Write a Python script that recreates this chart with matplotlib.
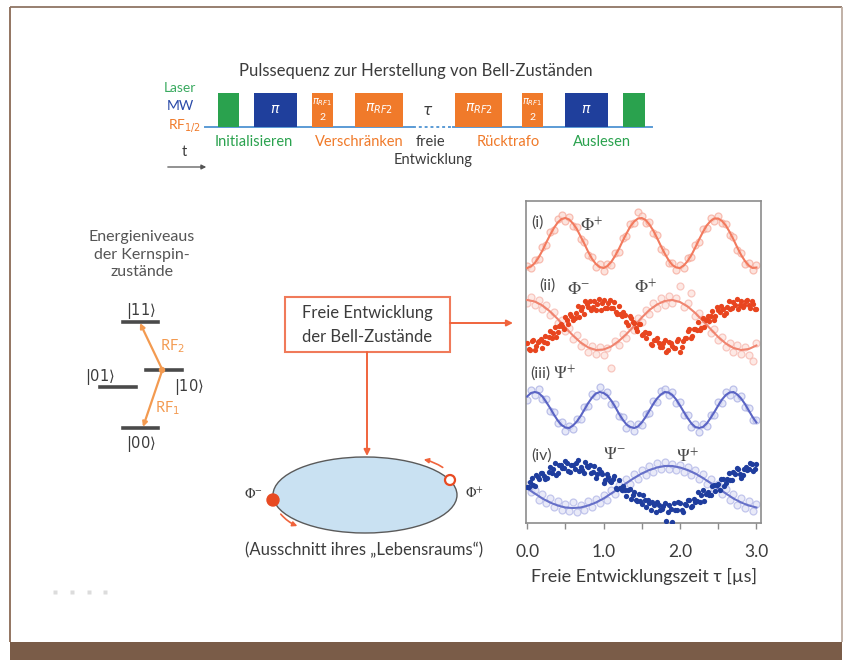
import numpy as np
import matplotlib
matplotlib.use("Agg")
import matplotlib.pyplot as plt
from matplotlib.patches import Rectangle, Ellipse, FancyArrowPatch, Circle

# ---------------- data ----------------
t_fine = np.round(np.arange(0, 3.0001, 0.05), 2)    # 61 samples
t_coarse = np.round(np.arange(0, 3.0001, 0.1), 1)   # 31 samples
t_dense = np.round(np.arange(0, 3.0001, 0.04), 2)   # 76 samples
t_dense_b = np.round(np.arange(0.02, 2.99, 0.04), 2)  # 75 samples

# (i) Phi+
fit_i = [0.00,0.03,0.10,0.21,0.35,0.51,0.66,0.80,0.91,0.98, 1.00,0.97,0.89,0.78,0.63,0.48,0.32,0.18,0.08,0.02,
         0.00,0.04,0.12,0.24,0.38,0.54,0.69,0.83,0.93,0.99, 1.00,0.96,0.87,0.75,0.60,0.44,0.29,0.16,0.06,0.01,
         0.00,0.05,0.14,0.26,0.41,0.57,0.72,0.85,0.94,0.99, 0.99,0.94,0.85,0.72,0.57,0.41,0.26,0.14,0.05,0.00,
         0.01]
scat_i = [0.05,0.00,0.16,0.18,0.42,0.47,0.72,0.76,0.98,1.06, 0.95,1.02,0.84,0.82,0.58,0.52,0.27,0.22,0.03,0.08,
          -0.05,0.09,0.07,0.30,0.33,0.60,0.65,0.88,0.90,1.12, 1.05,0.91,0.92,0.70,0.66,0.38,0.33,0.10,0.11,-0.04,
          0.06,0.00,0.20,0.22,0.47,0.52,0.78,0.80,1.00,0.95, 1.04,0.90,0.88,0.66,0.62,0.36,0.31,0.08,0.10,-0.03,
          0.06]
# (ii) Phi+ (light) and Phi- (dark)
fit_ii = [1.00,0.97,0.89,0.77,0.62,0.45,0.29,0.15,0.05,0.00, 0.01,0.07,0.18,0.32,0.48,0.65,0.80,0.91,0.98,1.00,
          0.96,0.87,0.74,0.58,0.42,0.26,0.13,0.04,0.00,0.02, 0.09]
scat_ii = [0.95,1.06,0.90,1.00,0.82,0.90,0.70,0.76,0.55,0.60, 0.38,0.44,0.22,0.30,0.08,0.16,-0.04,0.08,-0.08,0.07,
           -0.10,0.05,-0.35,0.18,0.10,0.32,0.24,0.48,0.40,0.64, 0.56,0.80,0.72,0.95,0.84,1.04,0.90,1.08,0.94,1.05,
           1.28,0.86,0.95,1.15,0.68,0.74,0.50,0.58,0.35,0.42, 0.20,0.26,0.06,0.15,-0.03,0.10,-0.08,0.06,-0.10,-0.22,
           0.14]
dark_ii_a = [0.14,0.00,0.20,0.09,0.18,0.05,0.29,0.26,0.24,0.47, 0.36,0.53,0.42,0.60,0.72,0.61,0.75,0.67,0.86,0.98,
             0.86,0.81,0.98,0.93,0.80,1.00,0.85,1.00,0.84,0.76, 0.88,0.69,0.71,0.51,0.64,0.54,0.38,0.52,0.33,0.24,
             0.34,0.11,0.21,0.15,0.06,0.21,0.00,0.14,0.05,0.18, -0.03,0.19,0.25,0.42,0.29,0.43,0.57,0.45,0.47,0.68,
             0.69,0.61,0.86,0.77,0.83,0.74,0.98,0.84,0.91,0.82, 0.99,0.90,1.01,0.85,0.93,0.83]
dark_ii_b = [0.03,0.18,0.00,0.17,0.23,0.16,0.14,0.38,0.35,0.26, 0.49,0.48,0.66,0.52,0.69,0.65,0.88,0.80,0.73,0.92,
             0.98,0.87,0.81,1.02,0.95,0.84,0.94,0.85,0.97,0.72, 0.73,0.77,0.56,0.68,0.56,0.44,0.53,0.30,0.36,0.35,
             0.12,0.21,0.25,0.07,0.15,-0.04,0.16,0.09,0.05,0.22, 0.06,0.24,0.38,0.24,0.43,0.41,0.40,0.65,0.60,0.59,
             0.79,0.69,0.81,0.88,0.71,0.86,0.83,0.96,1.02,0.90, 0.86,0.98,0.91,0.98,0.82]
# (iii) Psi+
fit_iii = [0.77,0.84,0.86,0.84,0.77,0.66,0.54,0.41,0.29,0.20, 0.15,0.14,0.19,0.27,0.38,0.51,0.64,0.75,0.83,0.86,
           0.84,0.79,0.69,0.57,0.43,0.31,0.21,0.16,0.14,0.17, 0.25,0.36,0.49,0.62,0.73,0.81,0.86,0.85,0.80,0.71,
           0.59,0.46,0.34,0.23,0.16,0.14,0.16,0.23,0.34,0.46, 0.59,0.71,0.80,0.85,0.86,0.81,0.73,0.62,0.49,0.36,
           0.25]
scat_iii = [0.70,0.90,0.80,0.92,0.72,0.72,0.48,0.46,0.24,0.26, 0.08,0.18,0.12,0.32,0.33,0.56,0.58,0.82,0.78,0.96,
            0.80,0.86,0.62,0.63,0.38,0.36,0.15,0.22,0.08,0.22, 0.20,0.42,0.44,0.68,0.67,0.88,0.92,0.80,0.86,0.64,
            0.66,0.40,0.40,0.17,0.22,0.06,0.22,0.18,0.40,0.40, 0.66,0.64,0.86,0.80,0.92,0.74,0.78,0.56,0.55,0.30,
            0.30]
# (iv) Psi+ (light) and Psi- (dark)
fit_iv = [0.47,0.37,0.27,0.19,0.13,0.09,0.08,0.09,0.13,0.19, 0.27,0.37,0.47,0.58,0.68,0.77,0.84,0.89,0.92,0.92,
          0.89,0.84,0.77,0.68,0.58,0.47,0.37,0.27,0.19,0.13, 0.09]
scat_iv = [0.55,0.40,0.45,0.25,0.36,0.18,0.28,0.10,0.22,0.04, 0.16,0.02,0.20,0.00,0.14,0.05,0.22,0.10,0.26,0.18,
           0.34,0.24,0.44,0.36,0.55,0.46,0.66,0.56,0.76,0.66, 0.85,0.74,0.92,0.80,0.98,0.86,1.00,0.86,0.96,0.84,
           0.94,0.80,0.90,0.74,0.84,0.66,0.76,0.56,0.66,0.46, 0.56,0.36,0.46,0.24,0.36,0.14,0.28,0.08,0.22,0.02,
           0.16]
dark_iv_a = [0.51,0.61,0.55,0.74,0.66,0.79,0.66,0.80,0.78,0.98, 0.79,0.94,0.89,0.99,0.81,0.94,0.99,0.82,0.85,1.00,
             0.90,0.78,0.92,0.77,0.81,0.59,0.77,0.62,0.67,0.48, 0.64,0.44,0.45,0.44,0.26,0.41,0.22,0.23,0.34,0.11,
             0.18,0.21,0.00,0.14,0.06,0.18,0.01,0.07,0.19,0.04, 0.19,0.00,0.15,0.24,0.12,0.20,0.40,0.35,0.23,0.40,
             0.35,0.55,0.54,0.45,0.66,0.59,0.79,0.65,0.76,0.86, 0.69,0.87,0.84,0.98,0.82,0.97]
dark_iv_b = [0.50,0.68,0.52,0.71,0.78,0.72,0.69,0.91,0.86,0.74, 0.94,0.89,1.02,0.83,0.95,0.86,1.04,0.91,0.79,0.93,
             0.94,0.80,0.69,0.87,0.77,0.64,0.71,0.61,0.72,0.46, 0.48,0.53,0.32,0.46,0.35,0.25,0.37,0.16,0.24,0.25,
             0.04,0.15,0.21,0.05,0.13,-0.18,0.15,-0.20,0.05,0.21, 0.05,0.17,0.25,0.10,0.27,0.23,0.21,0.44,0.37,0.35,
             0.53,0.43,0.56,0.67,0.52,0.67,0.65,0.80,0.88,0.77, 0.75,0.90,0.86,0.97,0.86]

x_ticks = [0.0, 1.0, 2.0, 3.0]
x_tick_labels = ["0.0", "1.0", "2.0", "3.0"]
x_label = "Freie Entwicklungszeit τ [µs]"

# ---------------- figure ----------------
FONT = ["Lato", "DejaVu Sans"]
plt.rcParams["font.family"] = FONT
TXT = "#3c3c3c"
GREEN = "#2aa24e"
BLUE = "#1f3f9c"
ORANGE = "#f07a2a"
ARROW = "#f0643c"

fig = plt.figure(figsize=(8.47, 6.6), dpi=100)
bg = fig.add_axes([0, 0, 1, 1])
bg.set_xlim(0, 847)
bg.set_ylim(660, 0)
bg.axis("off")

# page frame
bg.plot([10, 10], [7, 642], color="#8a6a55", lw=1.3, solid_capstyle="butt")
bg.plot([10, 842], [7, 7], color="#8f7565", lw=1.3, solid_capstyle="butt")
bg.plot([842, 842], [7, 642], color="#bcaba0", lw=1.3, solid_capstyle="butt")
bg.add_patch(Rectangle((10, 642), 832, 18, facecolor="#7a5c48", edgecolor="none"))

# ---- pulse sequence ----
bg.text(416, 71, "Pulssequenz zur Herstellung von Bell-Zuständen", ha="center", va="center",
        fontsize=12, color=TXT)
bg.text(196, 88, "Laser", ha="right", va="center", fontsize=10, color="#3aaa60")
bg.text(194, 106, "MW", ha="right", va="center", fontsize=10, color="#2a4aa8")
bg.text(201, 125, "RF$_{1/2}$", ha="right", va="center", fontsize=10, color=ORANGE)

base_y = 127
bg.plot([205, 413], [base_y, base_y], color="#5b9bd5", lw=1.4, zorder=1)
bg.plot([413, 453], [base_y, base_y], color="#5b9bd5", lw=1.4, ls=(0, (1.5, 1.5)), zorder=1)
bg.plot([453, 652], [base_y, base_y], color="#5b9bd5", lw=1.4, zorder=1)

pulses = [(218, 239, GREEN, ""), (254, 297, BLUE, r"$\pi$"), (312, 333, ORANGE, "half"),
          (355, 403, ORANGE, r"$\pi_{RF2}$"), (455, 502, ORANGE, r"$\pi_{RF2}$"),
          (522, 543, ORANGE, "half"), (565, 608, BLUE, r"$\pi$"), (623, 645, GREEN, "")]
for x0, x1, c, lab in pulses:
    bg.add_patch(Rectangle((x0, 93), x1 - x0, 34, facecolor=c, edgecolor="none", zorder=2))
    xc = (x0 + x1) / 2
    if lab == "half":
        bg.text(xc, 102, r"$\pi_{RF1}$", ha="center", va="center", fontsize=7, color="white", zorder=3)
        bg.text(xc, 117, "2", ha="center", va="center", fontsize=7.5, color="white", zorder=3)
    elif lab:
        bg.text(xc, 109, lab, ha="center", va="center", fontsize=10, color="white", zorder=3)
bg.text(428, 111, r"$\tau$", ha="center", va="center", fontsize=11, color=TXT)

for xc, s, c in [(254, "Initialisieren", GREEN), (359, "Verschränken", ORANGE), (430, "freie", TXT),
                 (508, "Rücktrafo", ORANGE), (602, "Auslesen", GREEN)]:
    bg.text(xc, 142, s, ha="center", va="center", fontsize=10.5, color=c)
bg.text(433, 160, "Entwicklung", ha="center", va="center", fontsize=10.5, color=TXT)
bg.text(184, 152, "t", ha="center", va="center", fontsize=10.5, color=TXT)
bg.annotate("", xy=(209, 167), xytext=(165, 167),
            arrowprops=dict(arrowstyle="-|>", color="#555555", lw=0.9, mutation_scale=7))

# ---- energy levels ----
for i, s in enumerate(["Energieniveaus", "der Kernspin-", "zustände"]):
    bg.text(142, 237 + 17.5 * i, s, ha="center", va="center", fontsize=11.5, color="#555555")
LV = "#4a4a4a"
bg.plot([123, 158], [322, 322], color=LV, lw=2.6)
bg.plot([146, 182], [370, 370], color=LV, lw=2.6)
bg.plot([100, 136], [387, 387], color=LV, lw=2.6)
bg.plot([123, 158], [428, 428], color=LV, lw=2.6)
for xk, yk, s in [(141, 311, r"$|11\rangle$"), (100, 377, r"$|01\rangle$"),
                  (189, 387, r"$|10\rangle$"), (141, 444, r"$|00\rangle$")]:
    bg.text(xk, yk, s, ha="center", va="center", fontsize=10.5, color=TXT, math_fontfamily="dejavusans")
RFC = "#f39a50"
bg.annotate("", xy=(140, 323), xytext=(162, 369),
            arrowprops=dict(arrowstyle="-|>", color=RFC, lw=1.6, mutation_scale=7, shrinkA=0, shrinkB=0))
bg.annotate("", xy=(143, 427), xytext=(162, 371),
            arrowprops=dict(arrowstyle="-|>", color=RFC, lw=1.6, mutation_scale=7, shrinkA=0, shrinkB=0))
bg.add_patch(Circle((162, 370), 2.5, color=RFC, zorder=4))
bg.text(160, 346, "RF$_2$", ha="left", va="center", fontsize=10.5, color=RFC)
bg.text(155, 408, "RF$_1$", ha="left", va="center", fontsize=10.5, color=RFC)

# ---- free evolution box & arrows ----
bg.add_patch(Rectangle((285, 297), 165, 55, facecolor="white", edgecolor="#f07a5a", lw=1.5))
bg.text(367, 313, "Freie Entwicklung", ha="center", va="center", fontsize=12, color=TXT)
bg.text(367, 337, "der Bell-Zustände", ha="center", va="center", fontsize=12, color=TXT)
bg.annotate("", xy=(513, 323), xytext=(450, 323),
            arrowprops=dict(arrowstyle="-|>", color=ARROW, lw=1.4, mutation_scale=9, shrinkA=0, shrinkB=0))
bg.annotate("", xy=(367, 456), xytext=(367, 352),
            arrowprops=dict(arrowstyle="-|>", color=ARROW, lw=1.4, mutation_scale=9, shrinkA=0, shrinkB=0))

# ---- ellipse ----
bg.add_patch(Ellipse((365, 495), 184, 76, facecolor="#c9e1f2", edgecolor="#5a5a5a", lw=1.0))
bg.add_patch(Circle((273, 500), 6, facecolor="#e84a22", edgecolor="#e84a22", zorder=4))
bg.add_patch(Circle((450, 480), 5, facecolor="white", edgecolor="#e84a22", lw=1.6, zorder=4))
bg.add_patch(FancyArrowPatch((445, 469), (421, 459), connectionstyle="arc3,rad=0.12",
                             arrowstyle="-|>", mutation_scale=7, color=ARROW, lw=1.2))
bg.add_patch(FancyArrowPatch((279, 512), (300, 527), connectionstyle="arc3,rad=0.15",
                             arrowstyle="-|>", mutation_scale=7, color=ARROW, lw=1.2))
bg.text(253, 493, r"$\Phi^{-}$", ha="center", va="center", fontsize=10, color=TXT, math_fontfamily="stix")
bg.text(474, 493, r"$\Phi^{+}$", ha="center", va="center", fontsize=10, color=TXT, math_fontfamily="stix")
bg.text(364, 550, "(Ausschnitt ihres „Lebensraums“)", ha="center", va="center", fontsize=12, color=TXT)

# faint marks bottom-left
for xm in [55, 72, 89, 105]:
    bg.plot(xm, 592, marker="s", ms=2.5, color="#dcdcdc", mec="none")

# ---------------- data panel ----------------
ax = fig.add_axes([526 / 847, 1 - 523 / 660, 235 / 847, 322 / 660])
ax.set_facecolor("none")
ax.set_xlim(-0.015, 3.06)
ax.set_ylim(0, 6.44)

traces = [
    (5.10, t_fine, fit_i, scat_i, "#f27a5e", "#f6a696", "#fcd8cf", None, None),
    (3.46, t_coarse, fit_ii, scat_ii, "#f0846f", "#f6b4aa", "#fde0da", dark_ii_a, dark_ii_b),
    (1.76, t_fine, fit_iii, scat_iii, "#5a64c4", "#a5abe2", "#dcdff6", None, None),
    (0.22, t_coarse, fit_iv, scat_iv, "#6670c8", "#aeb3e6", "#e0e2f6", dark_iv_a, dark_iv_b),
]
dark_colors = ["#e8451f", "#1f3d9e"]
k = 0
for off, tl, yl, ys, lc, mec, mfc, ya, yb in traces:
    ax.plot(t_fine, np.array(ys) + off, ls="none", marker="o", ms=5, mfc=mfc, mec=mec, mew=0.9,
            alpha=0.7, zorder=2)
    ax.plot(tl, np.array(yl) + off, color=lc, lw=1.5, zorder=3)
    if ya is not None:
        ax.plot(t_dense, np.array(ya) + off, ls="none", marker="o", ms=3.8, color=dark_colors[k],
                mec="none", zorder=4)
        ax.plot(t_dense_b, np.array(yb) + off, ls="none", marker="o", ms=3.8, color=dark_colors[k],
                mec="none", zorder=4)
        k += 1

for s in ax.spines.values():
    s.set_color("#8c8c8c")
    s.set_linewidth(1.2)
ax.set_yticks([])
ax.set_xticks(x_ticks)
ax.set_xticklabels(x_tick_labels)
ax.set_xticks([0.5, 1.5, 2.5], minor=True)
ax.tick_params(axis="x", which="both", direction="out", length=4, width=1, color="#8c8c8c",
               labelsize=12.5, labelcolor=TXT, pad=11)
ax.set_xlabel(x_label, fontsize=13, color=TXT, labelpad=6)

LAB = "#4a4a4a"
def px(x_pix, y_pix):
    return (x_pix - 527) / 76.5, (523 - y_pix) / 50.0

for xp, yp, s in [(537, 223, "(i)"), (547, 286, "(ii)"), (540, 374, "(iii)"), (541, 456, "(iv)")]:
    x, y = px(xp, yp)
    ax.text(x, y, s, ha="center", va="center", fontsize=11.5, color=LAB)
for xp, yp, s in [(592, 225, r"$\Phi^{+}$"), (578, 289, r"$\Phi^{-}$"), (646, 287, r"$\Phi^{+}$"),
                  (564, 373, r"$\Psi^{+}$"), (614, 454, r"$\Psi^{-}$"), (687, 456, r"$\Psi^{+}$")]:
    x, y = px(xp, yp)
    ax.text(x, y, s, ha="center", va="center", fontsize=12.5, color=LAB, math_fontfamily="stix")

fig.savefig("out.png", dpi=100)
